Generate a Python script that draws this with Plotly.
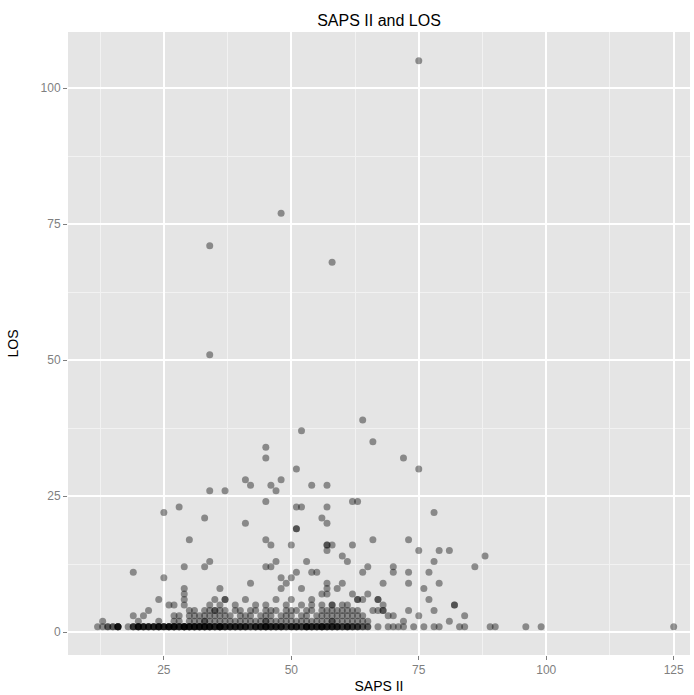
import plotly.graph_objects as go

# ---- data (SAPS II score vs. length of stay) ----
# points with LOS >= 10, grouped line-by-line by LOS value
hi_x = [75,
        48,
        34,
        58,
        34,
        64,
        52,
        66,
        45,
        45, 72,
        51, 75,
        48, 41,
        46, 42, 54, 57,
        47, 34, 37,
        45, 62, 63,
        28, 51, 52, 57,
        25, 78,
        33, 56,
        41, 57,
        51, 51,
        30, 45, 66, 73,
        46, 50, 57, 57, 58, 62,
        57, 75, 79, 81,
        60, 88,
        34, 47, 53, 61, 78,
        29, 33, 45, 46, 65, 70, 86,
        19, 54, 55, 51, 64, 70, 73, 77,
        25, 48, 50]
hi_y = [105,
        77,
        71,
        68,
        51,
        39,
        37,
        35,
        34,
        32, 32,
        30, 30,
        28, 28,
        27, 27, 27, 27,
        26, 26, 26,
        24, 24, 24,
        23, 23, 23, 23,
        22, 22,
        21, 21,
        20, 20,
        19, 19,
        17, 17, 17, 17,
        16, 16, 16, 16, 16, 16,
        15, 15, 15, 15,
        14, 14,
        13, 13, 13, 13, 13,
        12, 12, 12, 12, 12, 12, 12,
        11, 11, 11, 11, 11, 11, 11, 11,
        10, 10, 10]

# SAPS II values of the patients with LOS = 1 .. 9
los1_x = [12, 13, 14, 14, 15, 15, 16, 16, 16, 16, 16, 18, 19, 19, 19, 20, 20, 20, 20, 20,
          21, 21, 21, 21, 22, 22, 22, 22, 23, 23, 23, 23, 24, 24, 24, 24, 24, 25, 25, 25, 25,
          26, 26, 26, 26, 26, 27, 27, 27, 27, 27, 28, 28, 28, 28, 29, 29, 29, 29, 29, 29,
          30, 30, 30, 30, 30, 31, 31, 31, 31, 31, 32, 32, 32, 32, 32, 33, 33, 33, 33, 33,
          34, 34, 34, 34, 34, 35, 35, 35, 35, 36, 36, 36, 36, 36, 36, 37, 37, 37, 37,
          38, 38, 38, 38, 39, 39, 39, 39, 40, 40, 40, 40, 41, 41, 41, 41, 42, 42, 42,
          43, 43, 43, 43, 44, 44, 44, 44, 45, 45, 45, 45, 45, 46, 46, 46, 46,
          47, 47, 47, 47, 48, 48, 48, 48, 49, 49, 49, 50, 50, 50, 50, 51, 51, 51, 51, 52, 52, 52,
          53, 53, 53, 53, 53, 54, 54, 54, 54, 55, 55, 55, 55, 56, 56, 56, 56, 56,
          57, 57, 57, 57, 58, 58, 58, 58, 59, 59, 59, 59, 60, 60, 60, 61, 61, 61, 61,
          62, 62, 62, 63, 63, 63, 64, 64, 65, 65, 67, 69, 70, 71, 72, 74, 76,
          78, 79, 83, 84, 89, 90, 96, 99, 125]
los2_x = [13, 20, 24, 27, 28, 30, 31, 32, 33, 33, 34, 35, 36, 37, 38, 39, 40,
          41, 42, 43, 44, 45, 45, 46, 47, 48, 49, 50, 51, 52, 53, 54, 55,
          56, 57, 58, 58, 59, 60, 61, 62, 63, 64, 65, 72, 81]
los3_x = [19, 21, 27, 28, 30, 31, 32, 33, 34, 35, 36, 37, 38, 40, 41, 42,
          44, 45, 46, 48, 49, 50, 52, 53, 55, 56, 57, 58, 59, 60, 61, 62,
          63, 64, 69, 70, 75, 84]
los4_x = [22, 30, 31, 33, 34, 35, 35, 36, 37, 39, 40, 42, 43, 45, 46, 47,
          49, 50, 51, 53, 54, 56, 57, 58, 59, 60, 61, 62, 63, 66, 67, 68,
          68, 73, 78]
los5_x = [26, 27, 29, 34, 36, 39, 43, 45, 49, 52, 54, 56, 58, 58, 60, 61,
          68, 82, 82]
los6_x = [24, 29, 35, 37, 37, 41, 47, 50, 54, 63, 63, 64, 67, 67, 77]
los7_x = [29, 56, 57, 62, 65]
los8_x = [29, 36, 48, 52, 57, 59, 76]
los9_x = [42, 49, 57, 60, 68, 73, 79]

x_ticks = [25, 50, 75, 100, 125]
y_ticks = [0, 25, 50, 75, 100]

# ---- assemble ----
low_rows = [los1_x, los2_x, los3_x, los4_x, los5_x, los6_x, los7_x, los8_x, los9_x]
xs = list(hi_x)
ys = list(hi_y)
for los, row in enumerate(low_rows, start=1):
    xs += row
    ys += [los] * len(row)

FONT = "Liberation Sans, Arial, Helvetica, sans-serif"
GREY = "#7F7F7F"

fig = go.Figure(go.Scatter(
    x=xs, y=ys, mode="markers",
    marker=dict(color="rgba(0,0,0,0.4)", size=7, line=dict(width=0)),
    hoverinfo="x+y",
))

axis_common = dict(
    showgrid=True, gridcolor="white", gridwidth=1.6,
    zeroline=False, showline=False, automargin=False,
    ticks="outside", ticklen=4, tickwidth=1, tickcolor=GREY,
    tickfont=dict(family=FONT, size=12, color=GREY),
)

fig.update_layout(
    width=694, height=695,
    margin=dict(l=68, r=4, t=32, b=40),
    paper_bgcolor="white", plot_bgcolor="#E5E5E5",
    showlegend=False,
    font=dict(family=FONT, color="black"),
    title=dict(text="SAPS II and LOS", x=0.5, xref="paper", xanchor="center",
               y=1 - 20 / 695, yref="container", yanchor="middle",
               font=dict(family=FONT, size=16, color="black")),
    xaxis=dict(range=[6.2, 128.2], tickvals=x_ticks,
               minor=dict(tickvals=[12.5, 37.5, 62.5, 87.5, 112.5], showgrid=True,
                          gridcolor="#F2F2F2", gridwidth=0.8, ticks=""),
               title=dict(text="SAPS II", standoff=4,
                          font=dict(family=FONT, size=14, color="black")),
               **axis_common),
    yaxis=dict(range=[-4.2, 110.3], tickvals=y_ticks,
               minor=dict(tickvals=[12.5, 37.5, 62.5, 87.5], showgrid=True,
                          gridcolor="#F2F2F2", gridwidth=0.8, ticks=""),
               title=dict(text="LOS", standoff=18,
                          font=dict(family=FONT, size=14, color="black")),
               **axis_common),
)

fig.write_html("out.html", config={"displayModeBar": False},
               post_script="document.body.style.margin='0';")
